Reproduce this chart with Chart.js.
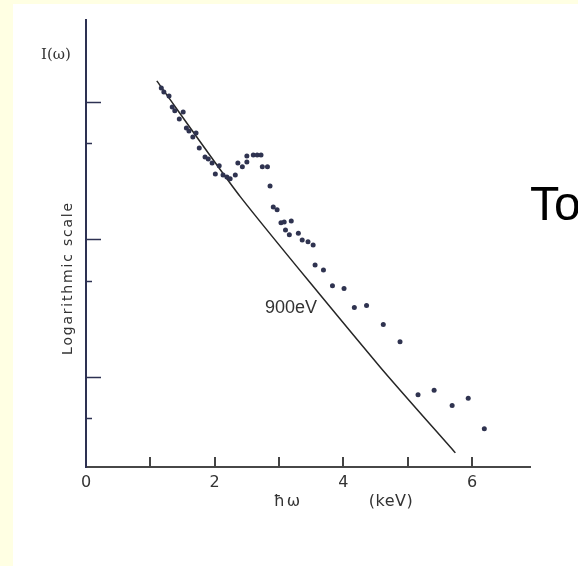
<!DOCTYPE html>
<html lang="en">
<head>
  <meta charset="UTF-8" />
  <title>I(ω) versus ħω, logarithmic scale</title>
  <script src="https://cdn.jsdelivr.net/npm/chart.js"></script>
  <style>
    html, body { margin: 0; padding: 0; }
    body { width: 578px; height: 566px; background: #ffffe3; position: relative; overflow: hidden; }
    #sheet { position: absolute; left: 13px; top: 4px; right: 0; bottom: 0; background: #fff; }
    #grafico { position: absolute; left: 0; top: 0; }
    .lbl { position: absolute; transform: translate(-50%, -50%); white-space: nowrap; color: #333; line-height: 1; }
  </style>
</head>
<body>
  <div id="sheet"></div>
  <canvas id="grafico" width="578" height="566"></canvas>

  <div class="lbl" style="left:56px; top:54px; font:15px 'DejaVu Serif';">I(ω)</div>
  <div class="lbl" style="left:67px; top:278px; font:14px 'DejaVu Sans'; letter-spacing:1.8px; transform:translate(-50%,-50%) rotate(-90deg);">Logarithmic scale</div>
  <div class="lbl" style="left:288px; top:500px; font:16px 'DejaVu Sans'; letter-spacing:2px;">ħω</div>
  <div class="lbl" style="left:391px; top:500px; font:16px 'DejaVu Sans'; letter-spacing:0.5px;">(keV)</div>
  <div class="lbl" style="left:291px; top:307px; font:18px 'Liberation Sans';">900eV</div>
  <div style="position:absolute; left:530px; top:180px; font:48px 'Liberation Sans'; line-height:1; color:#000; white-space:nowrap;">To</div>

  <script>
    // measured spectrum (keV, arbitrary units on log axis)
    const energy = [1.17, 1.21, 1.29, 1.34, 1.38, 1.51, 1.45, 1.56, 1.60, 1.71,
                    1.66, 1.76, 1.85, 1.90, 1.96, 2.07, 2.01, 2.13, 2.19, 2.24,
                    2.32, 2.36, 2.43, 2.50, 2.50, 2.60, 2.66, 2.72, 2.74, 2.82,
                    2.86, 2.91, 2.97, 3.03, 3.08, 3.19, 3.10, 3.16, 3.30, 3.36,
                    3.45, 3.53, 3.56, 3.69, 3.83, 4.01, 4.17, 4.36, 4.62, 4.88,
                    5.16, 5.41, 5.69, 5.94, 6.19];
    const intensity = [1264, 1183, 1106, 920, 861, 846, 752, 647, 615, 595,
                       556, 463, 398, 385, 360, 343, 299, 294, 285, 276,
                       294, 360, 337, 366, 405, 412, 412, 412, 337, 337,
                       245, 172, 164, 132, 134, 136, 117, 108, 111, 99,
                       96, 91, 65, 60, 46, 44, 32, 33, 24, 18,
                       7.4, 8.0, 6.2, 7.0, 4.2];

    // 900 eV line, read at a few places along the (slightly warped) scan
    const fitX = [1.10, 2.40, 4.57, 5.74];
    const fitY = [1422, 204, 11.8, 2.8];

    const xTickMarks = [1, 2, 3, 4, 5, 6];
    const xTickLabels = [0, 2, 4, 6];
    const yMajor = [10, 100, 1000];
    const yMinor = [5, 50, 500];

    // tick marks pointing into the plot, like the original figure
    const innerTicks = {
      id: 'innerTicks',
      afterDraw(chart) {
        const { ctx, chartArea: a, scales: { x, y } } = chart;
        ctx.save();
        ctx.strokeStyle = '#444';
        ctx.lineWidth = 2;
        xTickMarks.forEach(v => {
          const px = Math.round(x.getPixelForValue(v));
          ctx.beginPath();
          ctx.moveTo(px, a.bottom);
          ctx.lineTo(px, a.bottom - 10);
          ctx.stroke();
        });
        ctx.strokeStyle = '#2d3152';
        ctx.lineWidth = 1.5;
        yMajor.forEach(v => {
          const py = Math.round(y.getPixelForValue(v)) + 0.5;
          ctx.beginPath();
          ctx.moveTo(a.left, py);
          ctx.lineTo(a.left + 15, py);
          ctx.stroke();
        });
        yMinor.forEach(v => {
          const py = Math.round(y.getPixelForValue(v)) + 0.5;
          ctx.beginPath();
          ctx.moveTo(a.left, py);
          ctx.lineTo(a.left + 6, py);
          ctx.stroke();
        });
        ctx.restore();
      }
    };

    const ctx = document.getElementById('grafico').getContext('2d');
    new Chart(ctx, {
      type: 'scatter',
      data: {
        datasets: [{
          data: energy.map((e, i) => ({ x: e, y: intensity[i] })),
          pointRadius: 2.5,
          pointBackgroundColor: '#2f3350',
          pointBorderWidth: 0,
          showLine: false
        }, {
          data: fitX.map((e, i) => ({ x: e, y: fitY[i] })),
          showLine: true,
          borderColor: '#262626',
          borderWidth: 1.5,
          pointRadius: 0,
          tension: 0.2,
          fill: false
        }]
      },
      options: {
        responsive: false,
        animation: false,
        layout: { padding: { left: 86, top: 20, right: 48, bottom: 0 } },
        plugins: { legend: { display: false }, tooltip: { enabled: false } },
        scales: {
          x: {
            type: 'linear',
            min: 0,
            max: 6.9,
            grid: { display: false, drawTicks: false },
            border: { display: true, color: '#474747', width: 2 },
            afterBuildTicks: s => { s.ticks = xTickLabels.map(v => ({ value: v })); },
            ticks: { font: { family: 'DejaVu Sans', size: 16 }, color: '#333', padding: 6, maxRotation: 0, autoSkip: false },
            afterFit: s => { s.height = 99; }
          },
          y: {
            type: 'logarithmic',
            min: 2.21,
            max: 3945,
            grid: { display: false, drawTicks: false },
            border: { display: true, color: '#2d3152', width: 2 },
            ticks: { display: false },
            afterFit: s => { s.width = 0; }
          }
        }
      },
      plugins: [innerTicks]
    });
  </script>
</body>
</html>
